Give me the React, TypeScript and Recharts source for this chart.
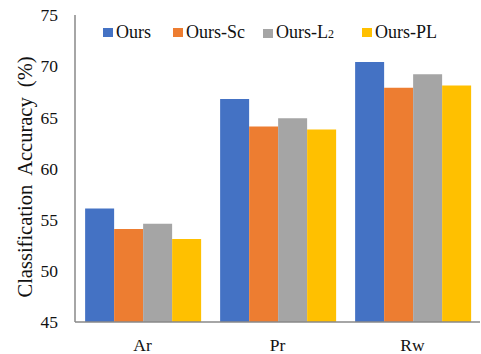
import React from 'react';
import { BarChart, Bar, XAxis, YAxis, Legend } from 'recharts';

const categories = ['Ar', 'Pr', 'Rw'];
const oursValues = [56.1, 66.8, 70.4];
const oursScValues = [54.1, 64.1, 67.9];
const oursL2Values = [54.6, 64.9, 69.2];
const oursPLValues = [53.1, 63.8, 68.1];
const seriesKeys = ['ours', 'oursSc', 'oursL2', 'oursPL'];
const seriesColors = ['#4472C4', '#ED7D31', '#A5A5A5', '#FFC000'];
const yTicks = [45, 50, 55, 60, 65, 70, 75];
const yTitle = 'Classification Accuracy (%)';

const data = categories.map((c, i) => ({
  name: c,
  ours: oursValues[i],
  oursSc: oursScValues[i],
  oursL2: oursL2Values[i],
  oursPL: oursPLValues[i],
}));

const FONT = '"Liberation Serif", "Times New Roman", serif';

const legendLefts = [103, 173, 263, 362];

const LegendLabel = ({ k }: { k: string }) => {
  if (k === 'ours') return <>Ours</>;
  if (k === 'oursSc') return <>Ours-Sc</>;
  if (k === 'oursL2')
    return (
      <>
        Ours-L<span style={{ fontSize: 12 }}>2</span>
      </>
    );
  return <>Ours-PL</>;
};

const CustomLegend = () => (
  <div style={{ position: 'relative', height: 0, width: 481 }}>
    {seriesKeys.map((k, i) => (
      <div
        key={k}
        style={{
          position: 'absolute',
          left: legendLefts[i],
          top: 22,
          display: 'flex',
          alignItems: 'center',
          whiteSpace: 'nowrap',
          fontFamily: FONT,
          fontSize: 18,
          lineHeight: '20px',
          color: '#111',
        }}
      >
        <span
          style={{
            display: 'inline-block',
            width: 10,
            height: 9,
            background: seriesColors[i],
            marginRight: 3,
            marginTop: 1,
          }}
        />
        <span>
          <LegendLabel k={k} />
        </span>
      </div>
    ))}
  </div>
);

const YTitle = () => (
  <text
    x={32}
    y={177}
    transform="rotate(-90, 32, 177)"
    textAnchor="middle"
    fontFamily={FONT}
    fontSize={20.5}
    wordSpacing={5}
    fill="#111"
  >
    {yTitle}
  </text>
);

export default function App() {
  return (
    <div style={{ position: 'absolute', left: 0, top: 0, width: 481, height: 354, background: '#fff' }}>
      <BarChart
        width={481}
        height={354}
        data={data}
        margin={{ top: 15, right: 1, bottom: 0, left: 0 }}
        barCategoryGap="7.5%"
        barGap={0}
      >
        <XAxis
          dataKey="name"
          height={32}
          tickLine={false}
          axisLine={{ stroke: '#888', strokeWidth: 1.5 }}
          tick={{ fontFamily: FONT, fontSize: 17.5, fill: '#111' }}
          tickMargin={11}
          interval={0}
        />
        <YAxis
          width={75}
          domain={[45, 75]}
          ticks={yTicks}
          tickLine={false}
          axisLine={{ stroke: '#888', strokeWidth: 1.5 }}
          tick={{ fontFamily: FONT, fontSize: 17.5, fill: '#111' }}
          tickMargin={11}
          interval={0}
          allowDataOverflow
          label={{ content: () => <YTitle /> }}
        />
        <Legend
          verticalAlign="top"
          align="left"
          content={() => <CustomLegend />}
          wrapperStyle={{ top: 0, left: 0, width: 481, height: 0 }}
        />
        {seriesKeys.map((k, i) => (
          <Bar key={k} dataKey={k} fill={seriesColors[i]} isAnimationActive={false} />
        ))}
      </BarChart>
    </div>
  );
}
